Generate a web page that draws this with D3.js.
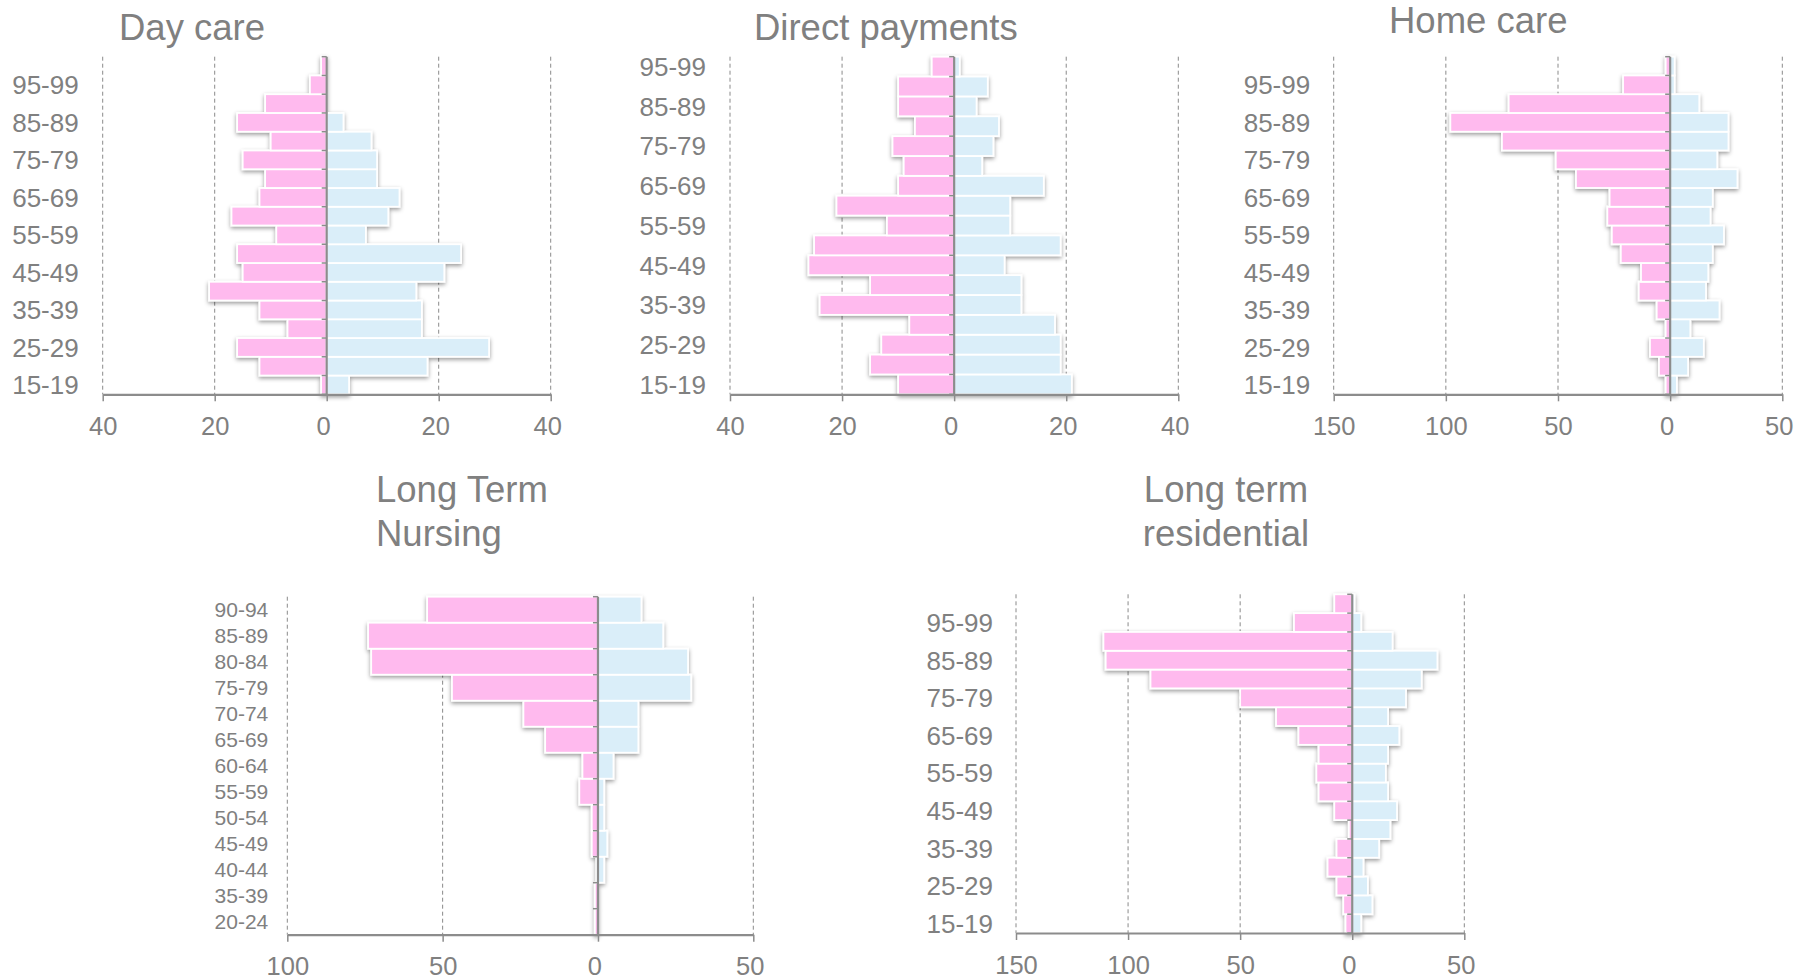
<!DOCTYPE html>
<html><head><meta charset="utf-8">
<script src="https://cdn.jsdelivr.net/npm/d3@7"></script>
<style>
body{margin:0;background:#fff}
svg text{font-family:"Liberation Sans",Arial,sans-serif;fill:#808080}
</style>
</head><body>
<svg id="chart" width="1796" height="979"></svg>
<script>
// ---------- categories ----------
const ages18 = ["15-19","20-24","25-29","30-34","35-39","40-44","45-49","50-54","55-59","60-64","65-69","70-74","75-79","80-84","85-89","90-94","95-99","100+"];
const ages17 = ["15-19","20-24","25-29","30-34","35-39","40-44","45-49","50-54","55-59","60-64","65-69","70-74","75-79","80-84","85-89","90-94","95-99"];
const ltnAges = ["20-24","35-39","40-44","45-49","50-54","55-59","60-64","65-69","70-74","75-79","80-84","85-89","90-94"];

// ---------- series (youngest first) ----------
const dayCareFemale = [1,12,16,7,12,21,15,16,9,17,12,11,15,10,16,11,3,1];
const dayCareMale   = [4,18,29,17,17,16,21,24,7,11,13,9,9,8,3,0,0,0];

const directFemale = [10,15,13,8,24,15,26,25,12,21,10,9,11,7,10,10,4];
const directMale   = [21,19,19,18,12,12,9,19,10,10,16,5,7,8,4,6,1];

const homeFemale = [2,5,9,2,6,14,13,22,26,28,27,42,51,75,98,72,21,2];
const homeMale   = [3,8,15,9,22,16,17,19,24,18,19,30,21,26,26,13,2,2];

const ltnFemale = [1,1,0.5,2,2,6,5,17,24,47,73,74,55];
const ltnMale   = [0,0,2,3,2,2,5,13,13,30,29,21,14];

const ltrFemale = [3,4,7,11,7,1.5,8,15,16,15,24,34,50,90,110,111,26,8];
const ltrMale   = [4,9,7,5,12,17,20,16,15,16,21,16,24,31,38,18,4,1];

// ---------- tick labels ----------
const ticks40 = [-40,-20,0,20,40];
const ticks150 = [-150,-100,-50,0,50];
const ticks100 = [-100,-50,0,50];

// ---------- layout ----------
const panels = [
  {title:["Day care"], tx:119, ty:40, anchor:"start", cats:ages18, f:dayCareFemale, m:dayCareMale, ticks:ticks40,
   left:102.7, right:550.7, top:56.7, bottom:394.3, lf:26, gap:24, every:2},
  {title:["Direct payments"], tx:754, ty:40, anchor:"start", cats:ages17, f:directFemale, m:directMale, ticks:ticks40,
   left:730, right:1178.3, top:56.7, bottom:394.3, lf:26, gap:24, every:2},
  {title:["Home care"], tx:1389, ty:33, anchor:"start", cats:ages18, f:homeFemale, m:homeMale, ticks:ticks150,
   left:1333.7, right:1782.3, top:56.7, bottom:394.3, lf:26, gap:23.5, every:2},
  {title:["Long Term","Nursing"], tx:376, ty:501.7, anchor:"start", cats:ltnAges, f:ltnFemale, m:ltnMale, ticks:ticks100,
   left:287.3, right:753.3, top:596.7, bottom:934.7, lf:21, gap:19, every:1},
  {title:["Long term","residential"], tx:1226, ty:501.7, anchor:"middle", cats:ages18, f:ltrFemale, m:ltrMale, ticks:ticks150,
   left:1016, right:1464.3, top:594.3, bottom:933, lf:26, gap:23, every:2}
];

const PINK = "#FFBAEE", BLUE = "#DAEEF9", AXIS = "#8c8c8c";

const svg = d3.select("#chart");
const defs = svg.append("defs");
const flt = defs.append("filter").attr("id","shadow")
  .attr("x","-20%").attr("y","-20%").attr("width","140%").attr("height","140%");
flt.append("feDropShadow").attr("dx",0).attr("dy",2).attr("stdDeviation",2)
  .attr("flood-color","#000").attr("flood-opacity",0.4);

panels.forEach(p => {
  const g = svg.append("g");
  const x = d3.scaleLinear().domain([p.ticks[0], p.ticks[p.ticks.length-1]]).range([p.left, p.right]);
  const y = d3.scaleBand().domain(p.cats).range([p.bottom, p.top]).padding(0);
  const bw = y.bandwidth();

  // grid (dashed)
  g.append("g").selectAll("line").data(p.ticks.filter(t => t !== 0)).join("line")
    .attr("x1", d => x(d)).attr("x2", d => x(d))
    .attr("y1", p.top).attr("y2", p.bottom)
    .attr("stroke", "#8a8a8a").attr("stroke-width", 1).attr("stroke-dasharray", "4,3");

  // bars
  const rows = p.cats.map((c,i) => ({c, f:p.f[i], m:p.m[i]}));
  const bars = g.append("g").attr("filter","url(#shadow)");
  bars.selectAll("rect.f").data(rows.filter(d => d.f > 0)).join("rect").attr("class","f")
    .attr("x", d => x(-d.f)).attr("width", d => x(0) - x(-d.f))
    .attr("y", d => y(d.c)).attr("height", bw)
    .attr("fill", PINK).attr("stroke","#fff").attr("stroke-width",1.8);
  bars.selectAll("rect.m").data(rows.filter(d => d.m > 0)).join("rect").attr("class","m")
    .attr("x", x(0)).attr("width", d => x(d.m) - x(0))
    .attr("y", d => y(d.c)).attr("height", bw)
    .attr("fill", BLUE).attr("stroke","#fff").attr("stroke-width",1.8);

  // zero axis with ticks at band boundaries
  const bounds = p.cats.map(c => y(c)).concat([p.bottom]);
  g.append("line").attr("x1", x(0)).attr("x2", x(0)).attr("y1", p.top).attr("y2", p.bottom)
    .attr("stroke", AXIS).attr("stroke-width", 2.2);
  g.append("g").selectAll("line").data(bounds).join("line")
    .attr("x1", x(0) - 5).attr("x2", x(0)).attr("y1", d => d).attr("y2", d => d)
    .attr("stroke", AXIS).attr("stroke-width", 1.5);

  // category labels
  g.append("g").selectAll("text").data(p.cats.filter((c,i) => i % p.every === 0 && c !== "100+")).join("text")
    .attr("x", p.left - p.gap).attr("y", d => y(d) + bw/2).attr("dy","0.36em")
    .attr("text-anchor","end").style("font-size", p.lf + "px").text(d => d);

  // x axis
  const ax = g.append("g").attr("transform", `translate(0,${p.bottom})`)
    .call(d3.axisBottom(x).tickValues(p.ticks).tickFormat(d => Math.abs(d)).tickSize(7).tickSizeOuter(0).tickPadding(15.5));
  ax.select(".domain").attr("stroke", AXIS).attr("stroke-width", 2.2);
  ax.selectAll(".tick line").attr("stroke", AXIS).attr("stroke-width", 1.5);
  ax.selectAll(".tick text").style("font-size","25.5px").attr("fill","#808080")
    .style("font-family",'"Liberation Sans",Arial,sans-serif')
    .attr("dx", d => d >= 0 ? -3.5 : 0);

  // title
  const t = svg.append("text").attr("x", p.tx).attr("y", p.ty).attr("text-anchor", p.anchor)
    .style("font-size","36.5px");
  p.title.forEach((line,i) => t.append("tspan").attr("x", p.tx).attr("dy", i === 0 ? 0 : 44.3).text(line));
});
</script>
</body></html>
